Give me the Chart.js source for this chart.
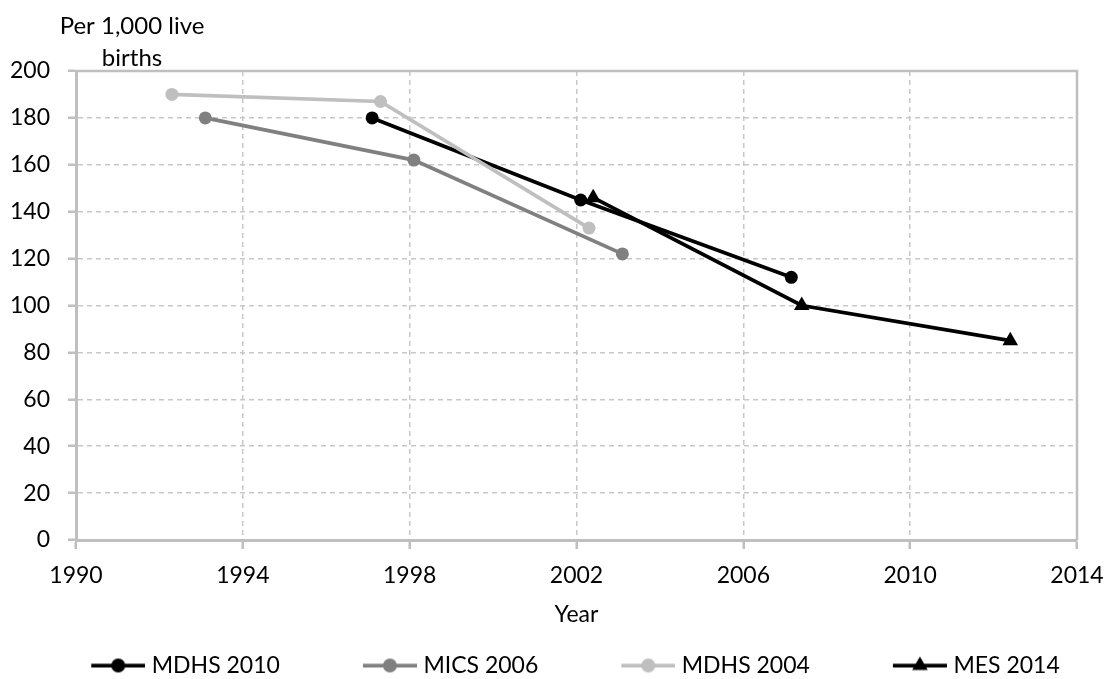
<!DOCTYPE html>
<html>
<head>
<meta charset="utf-8">
<script src="https://cdn.jsdelivr.net/npm/chart.js@4.4.0/dist/chart.umd.min.js"></script>
<style>
    html, body { margin: 0; padding: 0; background: #fff; }
</style>
</head>
<body>
<canvas id="mortality" width="1111" height="679"></canvas>
<script>
// values
const series_names = ['MDHS 2010', 'MICS 2006', 'MDHS 2004', 'MES 2014'];
const mdhs2010_years = [1997.1, 2002.1, 2007.15];
const mdhs2010_values = [180, 145, 112];
const mics2006_years = [1993.1, 1998.1, 2003.1];
const mics2006_values = [180, 162, 122];
const mdhs2004_years = [1992.3, 1997.3, 2002.3];
const mdhs2004_values = [190, 187, 133];
const mes2014_years = [2002.4, 2007.4, 2012.4];
const mes2014_values = [146, 100, 85];
const x_ticks = [1990, 1994, 1998, 2002, 2006, 2010, 2014];
const y_ticks = [0, 20, 40, 60, 80, 100, 120, 140, 160, 180, 200];
const y_title = ['Per 1,000 live', 'births'];
const x_title = 'Year';

const toPoints = (xs, ys) => xs.map((x, i) => ({ x: x, y: ys[i] }));

// legend symbol: short line with the marker in the middle
function legendIcon(color, style) {
    const c = document.createElement('canvas');
    c.width = 132;
    c.height = 20;
    const g = c.getContext('2d');
    g.strokeStyle = color;
    g.fillStyle = color;
    g.lineWidth = 3.75;
    g.beginPath();
    g.moveTo(78, 10);
    g.lineTo(132, 10);
    g.stroke();
    g.beginPath();
    if (style === 'triangle') {
        g.moveTo(105, 1);
        g.lineTo(112.8, 14.5);
        g.lineTo(97.2, 14.5);
        g.closePath();
    } else {
        g.arc(105, 10, 7, 0, Math.PI * 2);
    }
    g.fill();
    return c;
}

const gridColor = '#c8c8c8';
const axisColor = '#bfbfbf';

const framePlugin = {
    id: 'frame',
    beforeDatasetsDraw(chart) {
        const a = chart.chartArea;
        const ctx = chart.ctx;
        ctx.save();
        ctx.strokeStyle = axisColor;
        ctx.lineWidth = 2.5;
        ctx.beginPath();
        ctx.moveTo(a.left, a.top);
        ctx.lineTo(a.right, a.top);
        ctx.lineTo(a.right, a.bottom);
        ctx.stroke();
        ctx.restore();
    }
};

const yTitlePlugin = {
    id: 'yTitle',
    afterDraw(chart) {
        const a = chart.chartArea;
        const ctx = chart.ctx;
        ctx.save();
        ctx.font = '24px Lato';
        ctx.fillStyle = '#000';
        ctx.textAlign = 'center';
        ctx.textBaseline = 'middle';
        y_title.forEach((t, i) => ctx.fillText(t, a.left + 56, a.top - 45 + i * 32));
        ctx.restore();
    }
};

Chart.defaults.font.family = 'Lato';
Chart.defaults.font.size = 23;
Chart.defaults.color = '#000';

const styles = [
    { color: '#000000', marker: 'circle', radius: 6.5 },
    { color: '#808080', marker: 'circle', radius: 6.5 },
    { color: '#bfbfbf', marker: 'circle', radius: 6.5 },
    { color: '#000000', marker: 'triangle', radius: 9 }
];
const all_points = [
    toPoints(mdhs2010_years, mdhs2010_values),
    toPoints(mics2006_years, mics2006_values),
    toPoints(mdhs2004_years, mdhs2004_values),
    toPoints(mes2014_years, mes2014_values)
];
const icons = styles.map(s => legendIcon(s.color, s.marker));

const ctx = document.getElementById('mortality').getContext('2d');
const mortality_chart = new Chart(ctx, {
    type: 'line',
    data: {
        datasets: series_names.map((name, i) => ({
            label: name,
            data: all_points[i],
            borderColor: styles[i].color,
            backgroundColor: styles[i].color,
            borderWidth: 3.75,
            pointStyle: styles[i].marker,
            pointRadius: styles[i].radius,
            pointBorderWidth: 0,
            pointBackgroundColor: styles[i].color,
            tension: 0,
            fill: false,
            order: series_names.length - i
        }))
    },
    options: {
        responsive: false,
        animation: false,
        layout: {
            padding: { top: 71, right: 34, bottom: -8, left: 1 }
        },
        scales: {
            x: {
                type: 'linear',
                min: 1990,
                max: 2014,
                afterBuildTicks: axis => { axis.ticks = x_ticks.map(v => ({ value: v })); },
                afterFit: axis => {
                    axis.height = 104;
                    axis.paddingLeft = 0;
                    axis.paddingRight = 0;
                },
                ticks: {
                    padding: 13,
                    maxRotation: 0,
                    autoSkip: false,
                    callback: value => String(value)
                },
                grid: {
                    color: gridColor,
                    lineWidth: 1.5,
                    tickLength: 9,
                    tickColor: axisColor,
                    tickWidth: 2.5
                },
                border: {
                    color: axisColor,
                    width: 3,
                    dash: [5, 4]
                },
                title: {
                    display: true,
                    text: x_title,
                    padding: { top: 0, bottom: 16 }
                }
            },
            y: {
                min: 0,
                max: 200,
                afterBuildTicks: axis => { axis.ticks = y_ticks.map(v => ({ value: v })); },
                afterFit: axis => { axis.width = 75; },
                ticks: {
                    padding: 18
                },
                grid: {
                    color: gridColor,
                    lineWidth: 1.5,
                    tickLength: 8,
                    tickColor: axisColor,
                    tickWidth: 2.5
                },
                border: {
                    color: axisColor,
                    width: 3,
                    dash: [5, 4]
                }
            }
        },
        plugins: {
            legend: {
                position: 'bottom',
                labels: {
                    usePointStyle: true,
                    pointStyleWidth: 122,
                    padding: 10,
                    generateLabels: chart => chart.data.datasets.map((ds, i) => ({
                        text: ds.label,
                        pointStyle: icons[i],
                        fillStyle: ds.borderColor,
                        strokeStyle: ds.borderColor,
                        lineWidth: 0,
                        hidden: false,
                        fontColor: '#000',
                        datasetIndex: i
                    }))
                }
            },
            tooltip: { enabled: false }
        }
    },
    plugins: [framePlugin, yTitlePlugin]
});
</script>
</body>
</html>
